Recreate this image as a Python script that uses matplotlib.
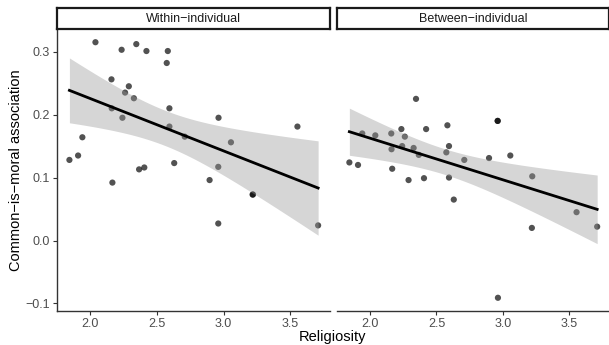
import numpy as np
import matplotlib
matplotlib.use("Agg")
import matplotlib.pyplot as plt

plt.rcParams['font.family'] = ['Liberation Sans', 'DejaVu Sans']

# religiosity per individual (shared by both panels)
religiosity = [1.845, 1.91, 1.942, 2.04, 2.16, 2.162, 2.167, 2.236, 2.242, 2.262,
               2.29, 2.328, 2.346, 2.367, 2.406, 2.422, 2.574, 2.582, 2.594, 2.594,
               2.63, 2.709, 2.895, 2.96, 2.96, 2.962, 3.055, 3.217, 3.22, 3.553, 3.708]

within = [0.128, 0.135, 0.164, 0.315, 0.256, 0.210, 0.092, 0.303, 0.195, 0.235,
          0.245, 0.226, 0.312, 0.113, 0.116, 0.301, 0.282, 0.301, 0.210, 0.181,
          0.123, 0.165, 0.096, 0.117, 0.027, 0.195, 0.156, 0.073, 0.073, 0.181, 0.024]

between = [0.124, 0.120, 0.170, 0.167, 0.170, 0.145, 0.114, 0.177, 0.150, 0.165,
           0.096, 0.147, 0.225, 0.136, 0.099, 0.177, 0.140, 0.183, 0.150, 0.100,
           0.065, 0.128, 0.131, 0.190, 0.190, -0.091, 0.135, 0.020, 0.102, 0.045, 0.022]

panels = ["Within\u2212individual", "Between\u2212individual"]
yticks = [-0.1, 0.0, 0.1, 0.2, 0.3]
xticks = [2.0, 2.5, 3.0, 3.5]
T_CRIT = 2.045  # t(0.975, df=29)

fig = plt.figure(figsize=(6.09, 3.45), dpi=100)
W, H = 609, 345


def px_axes(x0, y0, x1, y1):
    return fig.add_axes([x0 / W, 1 - y1 / H, (x1 - x0) / W, (y1 - y0) / H])


x = np.array(religiosity)
xs = np.linspace(x.min(), x.max(), 80)
boxes = [(57, 330), (337, 609)]

for i, (ys, title) in enumerate(zip([within, between], panels)):
    x0, x1 = boxes[i]
    ax = px_axes(x0, 29, x1, 311)
    y = np.array(ys)
    ax.scatter(x, y, s=20, color="black", alpha=0.68, edgecolors="none", zorder=2)

    # lm fit with 95% CI
    n = len(x)
    b, a = np.polyfit(x, y, 1)
    resid = y - (a + b * x)
    s = np.sqrt(np.sum(resid ** 2) / (n - 2))
    sxx = np.sum((x - x.mean()) ** 2)
    se = s * np.sqrt(1 / n + (xs - x.mean()) ** 2 / sxx)
    fit = a + b * xs
    ax.fill_between(xs, fit - T_CRIT * se, fit + T_CRIT * se,
                    color="#999999", alpha=0.4, linewidth=0, zorder=3)
    ax.plot(xs, fit, color="black", lw=2.0, zorder=4)

    ax.set_xlim(1.752, 3.797)
    ax.set_ylim(-0.112, 0.336)
    ax.set_xticks(xticks)
    ax.set_xticklabels([f"{t:.1f}" for t in xticks])
    ax.set_yticks(yticks)
    ax.set_yticklabels([f"{t:.1f}".replace("-", "\u2212") for t in yticks])
    ax.tick_params(colors="#333333", labelcolor="#4D4D4D", labelsize=9,
                   length=3, width=0.8, pad=2)
    for side in ["top", "right"]:
        ax.spines[side].set_visible(False)
    ax.spines["bottom"].set_color("#333333")
    ax.spines["left"].set_color("#333333")
    ax.spines["bottom"].set_linewidth(1.0)
    ax.spines["left"].set_linewidth(1.0)
    if i == 1:
        ax.spines["left"].set_visible(False)
        ax.tick_params(axis="y", left=False, labelleft=False)
    else:
        ax.set_ylabel("Common\u2212is\u2212moral association", fontsize=10.5,
                      color="black", labelpad=2)

    # strip
    sax = px_axes(x0, 8, x1, 29)
    sax.set_xticks([])
    sax.set_yticks([])
    for sp in sax.spines.values():
        sp.set_linewidth(1.6)
        sp.set_color("#1a1a1a")
    sax.text(0.5, 0.5, title, ha="center", va="center", fontsize=9,
             color="#1a1a1a", transform=sax.transAxes)

fig.text((57 + 609) / 2 / W, 1 - 337 / H, "Religiosity", ha="center", va="center",
         fontsize=10.5)

fig.savefig("out.png", dpi=100)
